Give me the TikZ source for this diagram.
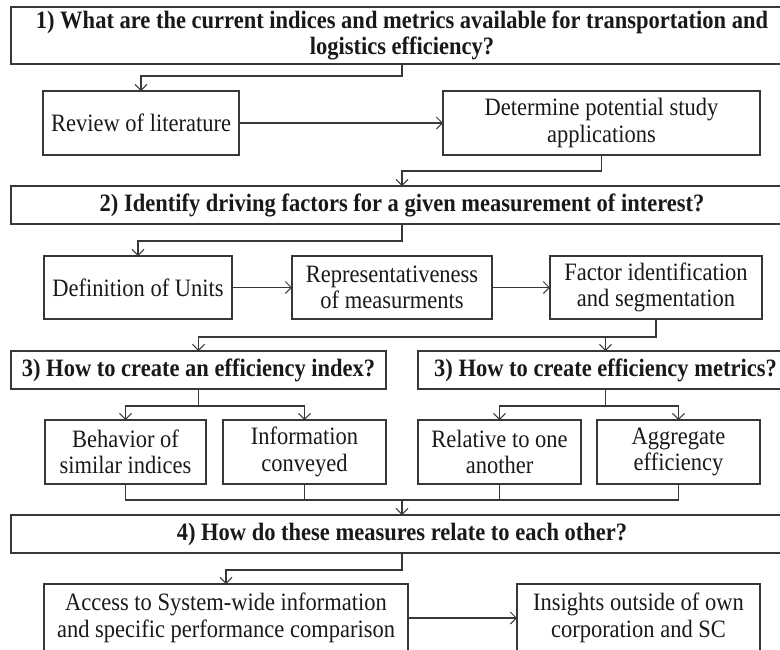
\documentclass[tikz,border=0pt]{standalone}
\usepackage{fontspec}
\setmainfont{Liberation Serif}[FakeStretch=0.9]
\usetikzlibrary{arrows.meta,calc}
\begin{document}
\begin{tikzpicture}[x=1pt,y=-1pt,
  box/.style={draw=black!78, line width=1.1pt, inner sep=0pt, outer sep=0pt, align=center,
    font=\fontsize{25}{26.5}\selectfont, text=black!90},
  qbox/.style={box, font=\fontsize{25}{26.5}\selectfont\bfseries},
  conn/.style={draw=black!78, line width=1.1pt},
  arr/.style={conn, -{Straight Barb[length=6pt,width=12pt,line width=1pt]}}]
\useasboundingbox (0,0) rectangle (780,649);

\node[qbox, minimum width=782, minimum height=57] (q1) at (402,35.5)
  {1) What are the current indices and metrics available for transportation and\\logistics efficiency?};
\node[box, minimum width=196, minimum height=64] (review) at (141,123) {Review of literature};
\node[box, minimum width=317, minimum height=64] (determine) at (601.5,123) {Determine potential study\\applications};
\node[qbox, minimum width=782, minimum height=38] (q2) at (402,205)
  {2) Identify driving factors for a given measurement of interest?};
\node[box, minimum width=188, minimum height=63] (def) at (138,287.5) {Definition of Units};
\node[box, minimum width=200, minimum height=63] (repr) at (392,287.5) {Representativeness\\of measurments};
\node[box, minimum width=212, minimum height=63] (factor) at (656,287.5) {Factor identification\\and segmentation};
\node[qbox, minimum width=375, minimum height=38] (q3a) at (198.5,370) {3) How to create an efficiency index?};
\node[qbox, minimum width=375, minimum height=38] (q3b) at (605.5,370) {3) How to create efficiency metrics?};
\node[box, minimum width=161, minimum height=64] (behav) at (125.5,452) {Behavior of\\similar indices};
\node[box, minimum width=163, minimum height=64] (info) at (304.5,452) {Information\\conveyed};
\node[box, minimum width=163, minimum height=64] (rel) at (499.5,452) {Relative to one\\another};
\node[box, minimum width=163, minimum height=64] (aggr) at (678.5,452) {Aggregate\\efficiency};
\node[qbox, minimum width=782, minimum height=38] (q4) at (402,534) {4) How do these measures relate to each other?};
\node[box, minimum width=364, minimum height=68] (access) at (226,618) {Access to System-wide information\\and specific performance comparison};
\node[box, minimum width=243, minimum height=68] (insights) at (638.5,618) {Insights outside of own\\corporation and SC};

\draw[arr] (q1.south) -- ++(0,12) -| (review.north);
\draw[arr] (review.east) -- (determine.west);
\draw[arr] (determine.south) -- ++(0,16) -| (q2.north);
\draw[arr] (q2.south) -- ++(0,17) -| (def.north);
\draw[arr] (def.east) -- (repr.west);
\draw[arr] (repr.east) -- (factor.west);
\draw[arr] (factor.south) -- ++(0,18) coordinate (j1) -| (q3a.north);
\draw[arr] (j1 -| q3b.north) -- (q3b.north);
\draw[arr] (q3a.south) -- ++(0,17) coordinate (j2) -| (behav.north);
\draw[arr] (j2) -| (info.north);
\draw[arr] (q3b.south) -- ++(0,17) coordinate (j3) -| (rel.north);
\draw[arr] (j3) -| (aggr.north);
\draw[conn] (behav.south) -- ++(0,16) coordinate (j4) -| (aggr.south);
\draw[conn] (info.south) -- (info.south |- j4);
\draw[conn] (rel.south) -- (rel.south |- j4);
\draw[arr] (j4 -| q4.north) -- (q4.north);
\draw[arr] (q4.south) -- ++(0,17) -| (access.north);
\draw[arr] (access.east) -- (insights.west);
\end{tikzpicture}
\end{document}
